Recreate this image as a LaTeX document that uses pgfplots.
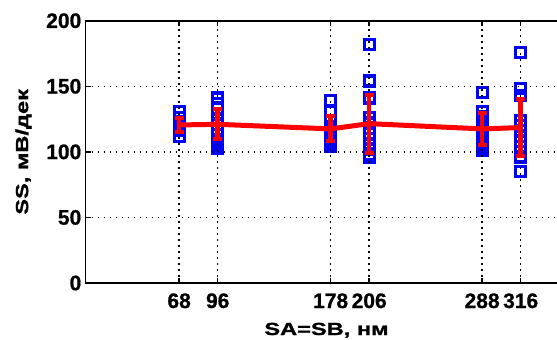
\documentclass[border=0pt]{standalone}
\usepackage{fontspec}
\usepackage{pgfplots}
\pgfplotsset{compat=1.18}
\usepackage{pgfplotstable}
\setmainfont{Liberation Sans}
\newfontfamily\tickfont[FakeBold=0.8]{Liberation Sans}
\newfontfamily\labelfont[FakeStretch=1.35, FakeBold=1.2]{Liberation Sans}

% layer for the measurements: above the grid, below everything else
\pgfplotsset{
  layers/withdata/.define layer set={
    axis background,axis grid,data,axis ticks,axis lines,
    axis tick labels,main,axis descriptions,axis foreground}{},
}

% individual measurements
\pgfplotstableread{
x y
68 131
68 126
68 123
68 121
68 118
68 116
68 112
96 141
96 137
96 133
96 129
96 125
96 121
96 117
96 113
96 109
96 106
96 103
178 139
178 131
178 124
178 119
178 115
178 112
178 109
178 106
178 104
206 182
206 154
206 141
206 126
206 122
206 118
206 114
206 110
206 106
206 102
206 98
206 96
288 145
288 131
288 127
288 124
288 121
288 118
288 115
288 112
288 109
288 106
288 103
288 101
316 176
316 148
316 143
316 124
316 120
316 116
316 112
316 108
316 104
316 100
316 96
316 85
}\points

% mean value at each spacing
\pgfplotstableread{
x y
68 120.5
96 121
178 117.5
206 121.5
288 117.5
316 118.5
}\means

% mean - sd and mean + sd
\pgfplotstableread{
x lo hi
68 115 126
96 109.5 132.5
178 108 127
206 99.5 143.5
288 105.5 129.5
316 97 140
}\spread

\begin{document}
\begin{tikzpicture}
\begin{axis}[
  name=ax,
  set layers=withdata,
  scale only axis,
  width=482bp, height=262.3bp,
  xmin=0, xmax=350,
  ymin=0, ymax=200,
  xtick={68,96,178,206,288,316},
  ytick={0,50,100,150,200},
  grid=major,
  major grid style={black, line width=1.4bp, dash pattern=on 1.5bp off 4.5bp},
  axis line style={black, line width=1.8bp},
  tick align=inside,
  major tick length=5bp,
  tick style={black, line width=1.5bp},
  /pgf/number format/assume math mode=true,
  ticklabel style={font=\tickfont\bfseries\fontsize{21bp}{23bp}\selectfont},
  xticklabel style={anchor=base, yshift=-25bp, inner sep=0pt},
  yticklabel style={anchor=east, xshift=-4bp, inner sep=0pt},
  xlabel={SA=SB, нм},
  ylabel={SS, мВ/дек},
  label style={font=\labelfont\bfseries\fontsize{17.5bp}{19bp}\selectfont},
  xlabel style={at={(axis description cs:0.5,0)}, anchor=base, yshift=-52bp, inner sep=0pt},
  ylabel style={at={(axis description cs:0,0.5)}, anchor=center, yshift=62bp, inner sep=0pt},
  clip=false,
  unbounded coords=jump,
]
% measurements
\addplot[only marks, blue, mark=square, mark size=5bp,
  on layer=data, mark layer=data,
  mark options={line width=3.2bp, blue}] table[x=x, y=y] {\points};
% mean curve
\addplot[red, line width=5bp, on layer=axis foreground] table[x=x, y=y] {\means};
% standard deviation bars
\addplot[red, line width=4.5bp, on layer=axis foreground] coordinates {
  (68,115) (68,126) (68,nan)
  (96,109.5) (96,132.5) (96,nan)
  (178,108) (178,127) (178,nan)
  (206,99.5) (206,143.5) (206,nan)
  (288,105.5) (288,129.5) (288,nan)
  (316,97) (316,140)
};
% bar caps
\addplot[only marks, red, mark=-, mark size=4.5bp, on layer=axis foreground,
  mark layer=axis foreground, mark options={line width=4bp, red}]
  table[x=x, y=lo] {\spread};
\addplot[only marks, red, mark=-, mark size=4.5bp, on layer=axis foreground,
  mark layer=axis foreground, mark options={line width=4bp, red}]
  table[x=x, y=hi] {\spread};
\end{axis}
\pgfresetboundingbox
\path ([xshift=-85.5bp, yshift=-57bp]ax.south west) rectangle ([xshift=471.5bp, yshift=20.7bp]ax.north west);
\end{tikzpicture}
\end{document}
